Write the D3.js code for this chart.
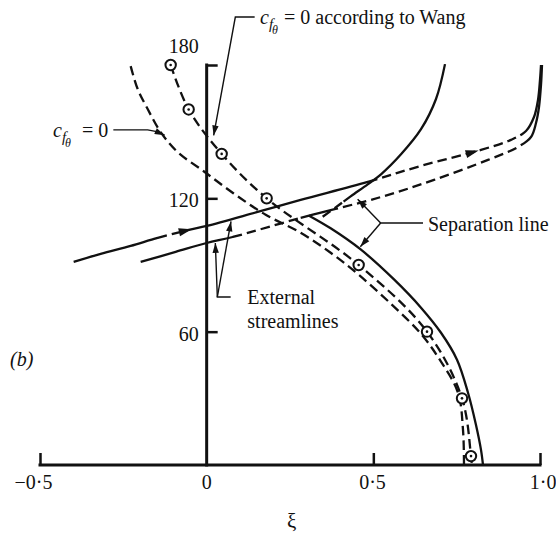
<!DOCTYPE html>
<html>
<head>
<meta charset="utf-8">
<script src="https://cdn.jsdelivr.net/npm/d3@7"></script>
<style>
  body { margin: 0; background: #fff; }
  text { font-family: "Liberation Serif", "Times New Roman", serif; fill: #111; font-size: 20px; }
</style>
</head>
<body>
<svg id="chart" width="556" height="533"></svg>
<script>
// Axis ticks: ξ along the bottom, θ (degrees) up the ξ = 0 line
const xTicks = [-0.5, 0, 0.5, 1.0];
const xTickLabels = ["−0·5", "0", "0·5", "1·0"];
const yTicks = [60, 120, 180];
const yTickLabels = ["60", "120", "180"];

// c_fθ = 0 according to Wang (open circles)
const wangXi    = [-0.108, -0.054, 0.045, 0.180, 0.456, 0.661, 0.766, 0.793];
const wangTheta = [180, 160, 140, 120, 90, 60, 30, 4];
// dashed curve through Wang's points, carried down to θ = 0
const wangCurveXi    = [-0.108, -0.054, 0.045, 0.180, 0.456, 0.661, 0.766, 0.793, 0.796];
const wangCurveTheta = [180, 160, 140, 120, 90, 60, 30, 4, 0];

// c_fθ = 0, present calculation
const cfXi    = [-0.228, -0.207, -0.177, -0.138, -0.087, -0.009, 0.081, 0.177, 0.282, 0.372, 0.453, 0.553, 0.643, 0.703, 0.754, 0.769, 0.772];
const cfTheta = [179.5, 169.2, 160.2, 149.8, 140.8, 132.2, 122.2, 112.6, 104.5, 95.5, 86.0, 72.5, 59.0, 46.5, 32.5, 15.8, 0];

// Separation line: lower branch
const sepLowXi    = [0.306, 0.372, 0.462, 0.562, 0.643, 0.703, 0.751, 0.784, 0.808, 0.823, 0.829];
const sepLowTheta = [112.3, 106.5, 97.0, 83.5, 70.8, 59.5, 47.4, 32.5, 18.0, 6.8, 0];
// Separation line: upper branch
const sepUpXi    = [0.348, 0.387, 0.432, 0.483, 0.523, 0.583, 0.643, 0.688, 0.715];
const sepUpTheta = [111.7, 115.9, 120.9, 126.3, 130.8, 139.8, 151.1, 164.7, 180.4];

// External streamlines
const upperStreamXi    = [-0.399, -0.318, -0.228, -0.147, -0.054, 0, 0.153, 0.282, 0.483, 0.643, 0.823, 0.913, 0.958, 0.982, 0.994, 1.000, 1.003];
const upperStreamTheta = [91.4, 95.0, 98.6, 102.2, 105.8, 107.6, 113.9, 119.3, 127.4, 134.6, 141.8, 146.3, 150.3, 156.6, 164.3, 173.3, 180.0];
const lowerStreamXi    = [-0.198, -0.093, 0, 0.078, 0.282, 0.523, 0.682, 0.844, 0.934, 0.973, 0.988, 0.997, 1.003, 1.006];
const lowerStreamTheta = [91.4, 95.9, 99.9, 102.6, 111.2, 120.6, 128.3, 137.3, 143.1, 147.6, 153.9, 161.1, 171.0, 180.0];

const ink = "#111";
const svg = d3.select("#chart");

const x = d3.scaleLinear().domain([-0.5, 1.0]).range([40, 540]);
const y = d3.scaleLinear().domain([0, 180]).range([465, 65]);

const zip = (a, b) => a.map((v, i) => [v, b[i]]);
const line = d3.line()
  .x(d => x(d[0]))
  .y(d => y(d[1]))
  .curve(d3.curveCatmullRom.alpha(0.5));

// ---- axes ----
const axes = svg.append("g");
axes.append("line")
  .attr("x1", x(-0.5)).attr("x2", x(1.0)).attr("y1", y(0)).attr("y2", y(0))
  .attr("stroke", ink).attr("stroke-width", 3).attr("stroke-linecap", "square");
axes.append("line")
  .attr("x1", x(0)).attr("x2", x(0)).attr("y1", y(0)).attr("y2", y(180))
  .attr("stroke", ink).attr("stroke-width", 3).attr("stroke-linecap", "square");

svg.append("g")
  .attr("transform", `translate(${x(0)},0)`)
  .call(d3.axisRight(y).tickValues(yTicks).tickSize(11).tickFormat(""))
  .call(g => g.select(".domain").remove())
  .call(g => g.selectAll("line").attr("stroke", ink).attr("stroke-width", 2.5));

svg.append("g")
  .attr("transform", `translate(0,${y(0)})`)
  .call(d3.axisTop(x).tickValues(xTicks.filter(v => v !== 0)).tickSize(12).tickFormat(""))
  .call(g => g.select(".domain").remove())
  .call(g => g.selectAll("line").attr("stroke", ink).attr("stroke-width", 2.5));

// tick labels
svg.append("g").selectAll("text").data(yTicks).join("text")
  .attr("x", x(0) - 8)
  .attr("y", d => d === 180 ? y(d) - 12 : y(d) + 9)
  .attr("text-anchor", "end")
  .text((d, i) => yTickLabels[i]);

svg.append("g").selectAll("text").data(xTicks).join("text")
  .attr("x", d => d === 0 ? x(d) : x(d) + 12.5 + (d === 1 ? 4 : 0))
  .attr("y", 489)
  .attr("text-anchor", d => d === 0 ? "middle" : "end")
  .text((d, i) => xTickLabels[i]);

svg.append("text").attr("x", x(0.255)).attr("y", 528).attr("text-anchor", "middle")
  .style("font-size", "21px").text("ξ");
svg.append("text").attr("x", 10).attr("y", 366).style("font-style", "italic").text("(b)");

// ---- curves ----
function plain(pts, dashed, width) {
  return svg.append("path")
    .attr("d", line(pts))
    .attr("fill", "none").attr("stroke", ink).attr("stroke-width", width)
    .attr("stroke-dasharray", dashed ? "9.5,5" : null);
}

// path whose solid / dashed stretches change at given ξ values
function styled(pts, pieces, width) {
  const path = svg.append("path")
    .attr("d", line(pts))
    .attr("fill", "none").attr("stroke", ink).attr("stroke-width", width);
  const node = path.node();
  const L = node.getTotalLength();
  const lenAt = xi => {
    const px = x(xi);
    for (let s = 0; s <= L; s += 0.5) if (node.getPointAtLength(s).x >= px) return s;
    return L;
  };
  const arr = [];
  let pos = 0;
  pieces.forEach(pc => {
    const end = pc.to == null ? L : lenAt(pc.to);
    if (!pc.dashed) arr.push(Math.max(0, end - pos), 0);
    else {
      let s = pos;
      while (s < end) {
        const d = Math.min(9.5, end - s);
        const g = Math.min(5, Math.max(0, end - s - d));
        arr.push(d, g);
        s += d + g;
      }
    }
    pos = end;
  });
  arr.push(0, 2000);
  path.attr("stroke-dasharray", arr.join(","));
  return { node, lenAt };
}

function arrowHead(px, py, ang, len, half) {
  const c = Math.cos(ang), s = Math.sin(ang);
  const p = [[0, 0], [-len, -half], [-len, half]]
    .map(([u, v]) => [px + u * c - v * s, py + u * s + v * c]);
  svg.append("path").attr("d", "M" + p.join("L") + "Z").attr("fill", ink);
}

function arrowOnPath(info, xi) {
  const s = info.lenAt(xi);
  const a = info.node.getPointAtLength(s - 2), b = info.node.getPointAtLength(s + 2);
  const tip = info.node.getPointAtLength(s + 5);
  arrowHead(tip.x, tip.y, Math.atan2(b.y - a.y, b.x - a.x), 13, 4);
}

plain(zip(cfXi, cfTheta), true, 2.3);
plain(zip(wangCurveXi, wangCurveTheta), true, 2.3);
plain(zip(sepLowXi, sepLowTheta), false, 2.3);
styled(zip(sepUpXi, sepUpTheta), [{ to: 0.41, dashed: true }, { to: null, dashed: false }], 2.3);

const up = styled(zip(upperStreamXi, upperStreamTheta), [
  { to: -0.147, dashed: false },
  { to: -0.054, dashed: true },
  { to: 0.483, dashed: false },
  { to: 0.945, dashed: true },
  { to: null, dashed: false }
], 2.3);
styled(zip(lowerStreamXi, lowerStreamTheta), [
  { to: 0.078, dashed: false },
  { to: 0.282, dashed: true },
  { to: 0.365, dashed: false },
  { to: 0.96, dashed: true },
  { to: null, dashed: false }
], 2.3);
arrowOnPath(up, -0.06);
arrowOnPath(up, 0.80);

// Wang's points
const pts = svg.append("g").selectAll("g").data(zip(wangXi, wangTheta)).join("g")
  .attr("transform", d => `translate(${x(d[0])},${y(d[1])})`);
pts.append("circle").attr("r", 5.2).attr("fill", "#fff").attr("stroke", ink).attr("stroke-width", 2);
pts.append("circle").attr("r", 1.3).attr("fill", ink);

// ---- annotations ----
function leader(coords, arrow, width) {
  const p = coords.map(([a, b]) => [x(a), y(b)]);
  svg.append("path").attr("d", d3.line().curve(d3.curveLinear)(p))
    .attr("fill", "none").attr("stroke", ink).attr("stroke-width", width || 1.4);
  if (arrow) {
    const n = p.length, a = p[n - 2], b = p[n - 1];
    arrowHead(b[0], b[1], Math.atan2(b[1] - a[1], b[0] - a[0]), 10, 3.2);
  }
}

function cfLabel(xi, th, eqXi, rest) {
  const t = svg.append("text").attr("x", x(xi)).attr("y", y(th));
  t.append("tspan").style("font-style", "italic").text("c");
  t.append("tspan").attr("dy", 5).style("font-style", "italic").style("font-size", "15px").text("f");
  t.append("tspan").attr("dy", 5).attr("dx", -1).style("font-style", "italic").style("font-size", "12px").text("θ");
  t.append("tspan").attr("x", x(eqXi)).attr("dy", -10).text(rest);
}

// c_fθ = 0 according to Wang
cfLabel(0.160, 198.5, 0.232, "= 0 according to Wang");
leader([[0.144, 201.6], [0.086, 201.6], [0.021, 148.3]], true);

// c_fθ = 0
cfLabel(-0.461, 147.6, -0.374, "= 0");
leader([[-0.280, 150.8], [-0.177, 150.8], [-0.150, 150.0], [-0.126, 148.4]], true);

// External streamlines
leader([[0.072, 75.6], [0.032, 75.6], [0.026, 99.9]], true);
leader([[0.032, 75.6], [0.073, 109.6]], true);
svg.append("text").attr("x", x(0.122)).attr("y", y(72.6)).text("External");
svg.append("text").attr("x", x(0.122)).attr("y", y(61.8)).text("streamlines");

// Separation line
leader([[0.649, 108.9], [0.522, 108.9], [0.453, 119.6]], true);
leader([[0.522, 108.9], [0.461, 98.2]], true);
svg.append("text").attr("x", x(0.664)).attr("y", y(105.3)).text("Separation line");
</script>
</body>
</html>
